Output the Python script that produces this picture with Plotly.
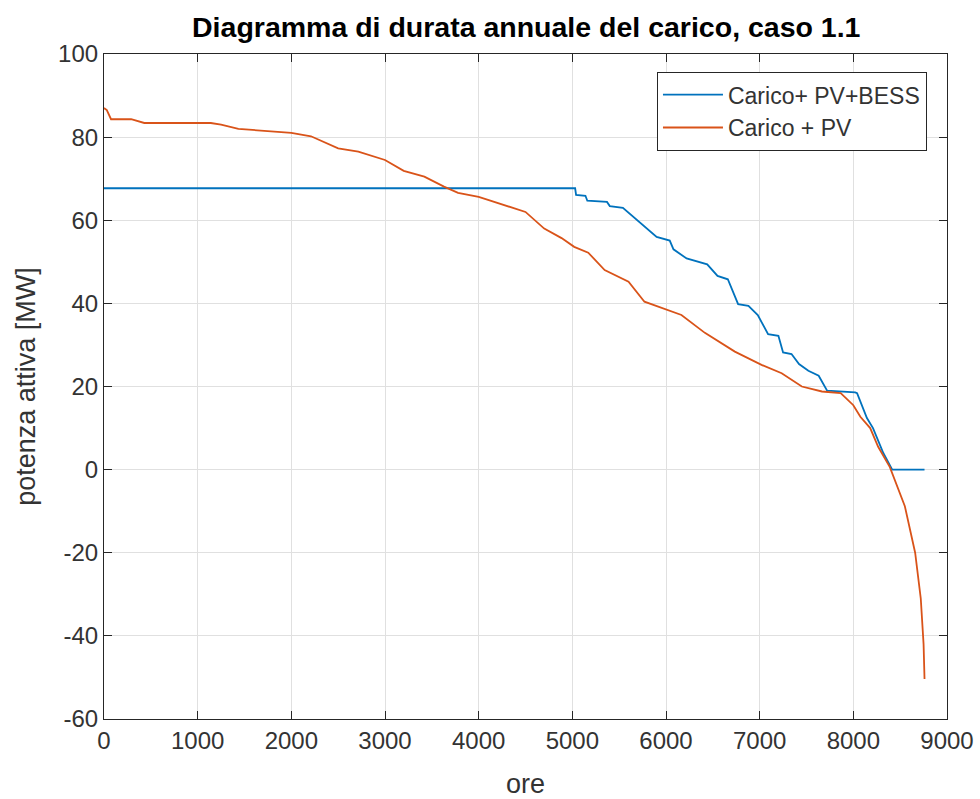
import plotly.graph_objects as go

# Carico + PV (orange)
ore_pv = [0, 30, 75, 290, 430, 1140, 1250, 1435, 2000, 2210, 2500, 2715, 3000, 3200, 3420, 3630, 3780,
          4000, 4100, 4500, 4700, 4885, 5020, 5170, 5345, 5600, 5770, 6030, 6165, 6415, 6735, 7020,
          7235, 7450, 7665, 7865, 8000, 8075, 8180, 8265, 8390, 8550, 8660, 8720, 8750, 8760]
p_pv = [87.0, 86.5, 84.3, 84.3, 83.4, 83.4, 83.0, 82.0, 81.0, 80.2, 77.3, 76.5, 74.5, 71.9, 70.5, 68.1, 66.6,
        65.6, 64.9, 62.0, 58.0, 55.7, 53.6, 52.2, 48.0, 45.2, 40.4, 38.4, 37.2, 32.9, 28.4, 25.2,
        23.2, 20.0, 18.8, 18.4, 15.5, 12.7, 10.0, 5.5, 0.6, -8.8, -20.0, -31.0, -42.0, -50.4]

# Carico + PV + BESS (blue)
ore_bess = [0, 5030, 5040, 5140, 5160, 5370, 5400, 5540, 5900, 6040, 6080, 6130, 6220, 6440, 6550,
            6660, 6770, 6880, 6980, 7090, 7200, 7250, 7340, 7420, 7520, 7630, 7720, 8020, 8040,
            8145, 8210, 8320, 8415, 8760]
p_bess = [67.7, 67.7, 66.1, 65.9, 64.7, 64.4, 63.4, 63.0, 56.0, 55.1, 53.0, 52.2, 50.8, 49.4, 46.6,
          45.8, 39.8, 39.4, 37.2, 32.6, 32.2, 28.2, 27.8, 25.4, 23.8, 22.6, 19.0, 18.6, 18.4,
          12.4, 10.0, 4.0, 0.0, 0.0]

x_ticks = [0, 1000, 2000, 3000, 4000, 5000, 6000, 7000, 8000, 9000]
y_ticks = [-60, -40, -20, 0, 20, 40, 60, 80, 100]

font_family = "Liberation Sans, Arial, Helvetica, sans-serif"
axis_col = "#262626"
text_col = "#333333"

fig = go.Figure()
fig.add_trace(go.Scatter(x=ore_bess, y=p_bess, mode="lines", name="Carico+ PV+BESS",
                         line=dict(color="#0072BD", width=1.8)))
fig.add_trace(go.Scatter(x=ore_pv, y=p_pv, mode="lines", name="Carico + PV",
                         line=dict(color="#D95319", width=1.8)))

axis_common = dict(showline=True, linecolor=axis_col, linewidth=1.2, mirror="ticks",
                   ticks="inside", ticklen=8, tickcolor=axis_col, automargin=False,
                   showgrid=True, gridcolor="#e0e0e0", gridwidth=1, zeroline=False,
                   tickfont=dict(family=font_family, size=24, color=text_col))

fig.update_layout(
    width=980, height=799,
    margin=dict(l=104, r=33, t=54, b=80),
    paper_bgcolor="white", plot_bgcolor="white",
    title=dict(text="<b>Diagramma di durata annuale del carico, caso 1.1</b>",
               x=0.537, xanchor="center", y=0.966, yanchor="middle",
               font=dict(family=font_family, size=28.5, color="#000000")),
    xaxis=dict(range=[0, 9000], tickvals=x_ticks, ticktext=[str(v) for v in x_ticks],
               title=dict(text="ore", font=dict(family=font_family, size=27, color=text_col), standoff=23),
               **axis_common),
    yaxis=dict(range=[-60, 100], tickvals=y_ticks, ticktext=[str(v) for v in y_ticks],
               title=dict(text="potenza attiva [MW]", font=dict(family=font_family, size=27, color=text_col), standoff=14),
               **axis_common),
    legend=dict(x=0.976, y=0.973, xanchor="right", yanchor="top",
                bgcolor="white", bordercolor=axis_col, borderwidth=1.2,
                font=dict(family=font_family, size=23, color=text_col),
                itemwidth=60, tracegroupgap=0),
    showlegend=True,
)

fig.write_html("out.html")
